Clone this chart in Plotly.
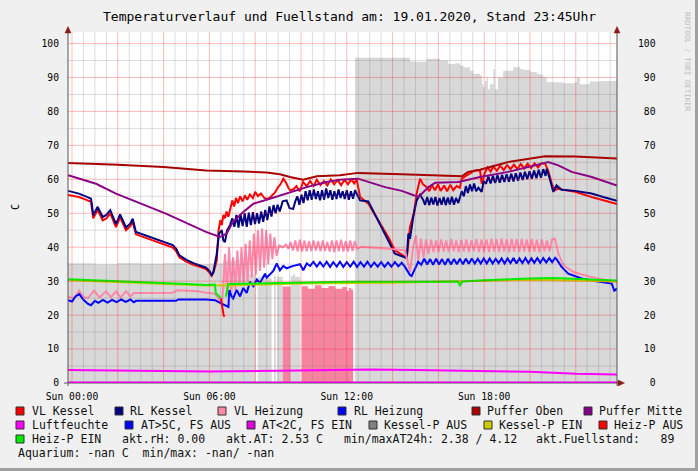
import plotly.graph_objects as go

# ---------------- data (hours of 19.01.2020, values in C / %) ----------------
x_ticks = [0, 6, 12, 18]
x_tick_labels = ["Sun 00:00", "Sun 06:00", "Sun 12:00", "Sun 18:00"]
y_ticks = [0, 10, 20, 30, 40, 50, 60, 70, 80, 90, 100]

fuell_t = [-0.17, 1.0, 2.0, 3.0, 4.0, 5.0, 6.0, 6.6, 7.3, 7.6, 8.04, 8.11, 8.4, 8.72, 8.82, 8.9, 8.95, 9.2,
           9.55, 9.65, 9.75, 9.96, 12.36, 14.76, 14.83, 15.05, 15.49, 16.07, 16.43, 16.72, 16.94, 17.09, 17.38,
           17.52, 17.82, 17.9, 17.96, 18.03, 18.11, 18.16, 18.25, 18.4, 18.47, 18.6, 18.83, 19.27, 19.56, 19.71,
           20.0, 20.29, 20.44, 20.58, 20.73, 21.46, 21.97, 22.05, 22.18, 22.62, 23.06, 23.8]
fuell_v = [35.2, 35.0, 35.3, 35.1, 35.3, 35.0, 35.2, 36.0, 35.0, 32.0, 0, 31.3, 31.0, 0, 31.5, 0, 31.3, 0,
           31.5, 32.0, 31.2, 0, 95.8, 94.8, 94.6, 94.6, 95.5, 95.0, 94.0, 94.2, 93.5, 93.0, 92.0,
           91.1, 90.6, 88.0, 87.1, 89.0, 90.0, 86.5, 88.0, 92.5, 86.5, 90.0, 92.0, 93.0, 92.5, 92.2,
           91.6, 91.1, 90.8, 90.1, 88.6, 88.3, 88.7, 90.0, 88.0, 88.8, 89.0, 88.9]

heizp_area_t = [-0.17, 9.2, 9.55, 10.03, 10.3, 10.6, 10.9, 11.2, 11.5, 11.8, 12.0, 12.1, 12.2, 12.28, 23.8]
heizp_area_v = [0, 28.4, 0, 28.5, 27.8, 28.8, 28.0, 28.6, 27.8, 28.3, 27.2, 28.0, 27.5, 0, 0]

rl_kessel_t = [-0.17, 0.3, 0.6, 0.83, 0.93, 1.12, 1.34, 1.5, 1.67, 1.92, 2.1, 2.36, 2.55, 2.65, 2.79, 3.2, 3.6,
               4.0, 4.4, 4.55, 4.69, 5.0, 5.3, 5.59, 5.85, 6.0, 6.1, 6.17, 6.32, 6.42, 6.54, 6.61, 6.68, 6.77,
               6.9, 7.0, 7.09, 7.18, 7.27, 7.36, 7.45, 7.54, 7.63, 7.72, 7.81, 7.9, 7.99, 8.08, 8.17, 8.26,
               8.35, 8.44, 8.53, 8.62, 8.71, 8.8, 8.89, 8.98, 9.07, 9.2, 9.37, 9.5, 9.66, 9.75, 9.84, 9.93,
               10.02, 10.11, 10.2, 10.29, 10.38, 10.47, 10.56, 10.65, 10.74, 10.83, 10.92, 11.01, 11.1, 11.19,
               11.28, 11.37, 11.46, 11.55, 11.64, 11.73, 11.82, 11.91, 12.0, 12.09, 12.18, 12.27, 12.36,
               12.45, 12.58, 12.94, 13.38, 13.81, 14.1, 14.35, 14.54, 14.62, 14.69, 14.76, 14.9, 15.05, 15.2,
               15.33, 15.42, 15.51, 15.6, 15.69, 15.78, 15.87, 15.96, 16.05, 16.14, 16.23, 16.32, 16.41,
               16.5, 16.59, 16.68, 16.77, 16.87, 17.02, 17.11, 17.2, 17.29, 17.38, 17.47, 17.56, 17.65,
               17.75, 17.89, 17.98, 18.08, 18.18, 18.28, 18.38, 18.48, 18.58, 18.68, 18.78, 18.88, 18.98,
               19.08, 19.18, 19.28, 19.38, 19.48, 19.58, 19.68, 19.78, 19.88, 19.98, 20.08, 20.18, 20.28,
               20.38, 20.48, 20.58, 20.68, 20.73, 20.87, 21.02, 21.16, 21.38, 21.97, 22.69, 23.2, 23.71, 23.8]
rl_kessel_v = [56.6, 55.8, 55.0, 54.3, 49.4, 51.9, 48.9, 49.5, 50.9, 46.8, 49.7, 45.8, 47.0, 48.4, 44.5, 43.5, 42.5,
               41.6, 40.6, 39.5, 37.6, 36.3, 35.3, 34.6, 34.0, 33.0, 31.8, 32.5, 38.0, 44.0, 45.0, 42.0, 41.5, 45.0,
               46.5, 48.5, 46.0, 49.5, 45.8, 49.8, 46.2, 50.0, 46.0, 50.2, 46.5, 50.3, 46.8, 50.0, 47.0, 50.5,
               47.5, 51.0, 48.0, 52.0, 49.0, 52.4, 50.0, 52.5, 50.5, 53.5, 53.8, 51.5, 51.3, 53.5, 55.0, 52.5,
               55.5, 53.0, 56.5, 53.8, 56.8, 54.0, 57.0, 54.2, 56.5, 53.8, 56.8, 54.0, 57.3, 54.5,
               56.8, 54.0, 56.5, 54.2, 57.0, 54.5, 56.5, 54.2, 56.8, 54.0, 56.5, 54.3, 56.8,
               55.5, 53.8, 53.5, 47.9, 42.0, 38.1, 37.5, 37.0, 36.8, 44.0, 42.5, 48.9, 53.8, 55.5,
               54.0, 52.5, 54.8, 52.4, 54.6, 52.6, 54.8, 52.3, 54.5, 52.5, 54.8, 52.4, 54.6,
               52.6, 54.9, 52.5, 54.5, 53.0, 56.5, 55.0, 58.0, 56.0, 58.5, 56.5, 58.8, 56.5,
               57.5, 56.3, 59.5, 58.7, 60.8, 58.8, 61.0, 58.9, 61.2, 59.0, 61.3, 59.2, 61.5,
               59.3, 61.6, 59.4, 61.8, 59.6, 62.0, 59.8, 62.2, 60.0, 62.4, 60.2, 62.6, 60.3,
               62.8, 60.5, 63.0, 61.0, 63.1, 60.0, 56.3, 58.2, 56.9, 56.6, 55.8, 54.8, 53.8, 53.7]

vl_kessel_t = [-0.17, 0.3, 0.6, 0.83, 0.93, 1.12, 1.34, 1.5, 1.67, 1.92, 2.1, 2.36, 2.55, 2.65, 2.79, 3.2, 3.6,
               4.0, 4.4, 4.55, 4.69, 5.0, 5.3, 5.59, 5.85, 6.0, 6.1, 6.2, 6.32, 6.4, 6.48, 6.54, 6.61, 6.68,
               6.75, 6.83, 6.92, 7.0, 7.08, 7.16, 7.25, 7.34, 7.45, 7.55, 7.65, 7.77, 7.9, 8.0, 8.12, 8.25,
               8.4, 8.55, 8.7, 8.85, 9.0, 9.1, 9.23, 9.35, 9.45, 9.52, 9.66, 9.8, 9.95, 10.09, 10.25, 10.4,
               10.55, 10.69, 10.85, 11.0, 11.15, 11.3, 11.45, 11.6, 11.75, 11.9, 12.05, 12.2, 12.32, 12.43,
               12.49, 12.58, 12.94, 13.38, 13.81, 14.1, 14.62, 14.76, 14.93, 15.05, 15.2, 15.33, 15.49,
               15.6, 15.72, 15.85, 15.98, 16.1, 16.25, 16.38, 16.52, 16.65, 16.8, 16.94, 17.02, 17.2,
               17.38, 17.6, 17.82, 17.89, 18.03, 18.15, 18.28, 18.4, 18.55, 18.7, 18.85, 19.0, 19.15,
               19.3, 19.45, 19.6, 19.75, 19.9, 20.05, 20.2, 20.35, 20.5, 20.66, 20.8, 20.95, 21.09,
               21.22, 21.97, 22.69, 23.2, 23.71, 23.8]
vl_kessel_v = [55.4, 54.8, 54.0, 53.4, 48.5, 51.0, 47.9, 48.5, 50.0, 45.9, 48.8, 45.0, 46.2, 47.5, 43.8, 42.8, 41.8,
               40.9, 39.9, 38.8, 37.0, 35.7, 34.8, 34.2, 33.6, 32.5, 31.6, 33.0, 36.0, 45.0, 48.0, 46.5, 49.5, 48.5,
               50.5, 49.0, 52.0, 53.8, 52.0, 54.5, 53.0, 55.0, 53.5, 55.3, 54.0, 55.5, 54.5, 56.3, 55.0, 55.8,
               54.5, 54.2, 55.0, 56.0, 57.7, 58.5, 60.2, 59.0, 57.5, 56.8, 57.0, 58.0, 56.5, 59.2, 58.0, 59.5,
               58.0, 59.9, 58.3, 59.5, 58.2, 60.0, 58.5, 59.8, 58.3, 59.8, 58.5, 60.0, 58.8, 59.9,
               58.0, 54.8, 52.8, 47.9, 43.0, 39.1, 36.9, 46.0, 50.0, 55.8, 60.2, 58.5, 57.7,
               56.5, 58.3, 56.8, 58.5, 56.6, 58.2, 56.5, 58.4, 56.8, 58.0, 57.5, 60.2, 61.0,
               61.8, 62.6, 62.6, 58.7, 62.0, 63.5, 62.3, 63.8, 62.5, 64.0, 62.7, 64.2, 63.0,
               64.3, 63.0, 64.5, 63.2, 64.6, 63.3, 64.7, 63.5, 64.8, 64.6, 62.5, 58.7, 56.8,
               57.2, 56.3, 54.8, 53.8, 52.8, 52.7]

vl_heizung_t = [-0.17, 0.1, 0.31, 0.5, 0.7, 0.96, 1.2, 1.48, 1.7, 1.92, 2.12, 2.36, 2.55, 2.7, 3.5, 4.4, 4.6, 5.5,
                5.85, 6.2, 6.35, 6.45, 6.55, 6.62, 6.68, 6.77, 6.86, 6.95, 7.04, 7.13, 7.22, 7.31, 7.4, 7.49,
                7.58, 7.67, 7.76, 7.85, 7.94, 8.03, 8.12, 8.21, 8.3, 8.39, 8.48, 8.57, 8.66, 8.75, 8.84, 8.93,
                9.05, 9.2, 9.35, 9.45, 9.55, 9.65, 9.75, 9.85, 9.95, 10.05, 10.15, 10.25, 10.35, 10.45, 10.55,
                10.65, 10.75, 10.85, 10.95, 11.05, 11.15, 11.25, 11.35, 11.45, 11.55, 11.65, 11.75, 11.85,
                11.95, 12.05, 12.15, 12.25, 12.35, 12.45, 12.65, 13.67, 14.54, 14.65, 14.76, 14.9, 15.02,
                15.12, 15.24, 15.35, 15.46, 15.57, 15.68, 15.79, 15.9, 16.01, 16.12, 16.23, 16.34, 16.45,
                16.56, 16.67, 16.78, 16.89, 17.0, 17.11, 17.22, 17.33, 17.44, 17.55, 17.66, 17.77, 17.88,
                17.99, 18.1, 18.21, 18.32, 18.43, 18.54, 18.65, 18.76, 18.87, 18.98, 19.09, 19.2, 19.31,
                19.42, 19.53, 19.64, 19.75, 19.86, 19.97, 20.08, 20.19, 20.3, 20.41, 20.52, 20.63, 20.74,
                20.85, 20.96, 21.09, 21.24, 21.46, 21.9, 22.62, 23.2, 23.71, 23.8]
vl_heizung_v = [25.4, 25.0, 27.2, 25.3, 25.0, 27.2, 25.2, 27.0, 25.3, 27.0, 25.2, 27.0, 25.5, 26.5, 26.5, 26.6, 27.3,
                27.0, 26.6, 26.4, 25.4, 24.0, 23.0, 30.0, 38.0, 26.0, 40.0, 27.0, 37.0, 27.5, 39.0, 28.5, 40.0,
                29.0, 41.0, 30.0, 42.0, 31.0, 44.0, 32.0, 45.0, 33.0, 45.5, 34.0, 45.0, 35.0, 44.0, 36.5, 43.0,
                37.5, 40.5, 40.0, 40.8, 39.5, 41.5, 39.0, 42.0, 38.8, 42.2, 38.7, 42.0, 38.8, 41.8, 38.9, 42.0,
                39.0, 41.8, 38.8, 42.0, 38.9, 41.5, 38.7, 42.0, 38.6, 42.0, 38.8, 42.2, 38.7,
                41.8, 38.8, 42.0, 38.9, 41.8, 39.5, 40.1, 39.6, 39.1, 36.0, 32.7, 40.0, 43.5,
                36.2, 42.5, 37.0, 42.3, 38.0, 42.2, 38.5, 42.0, 38.6, 42.3, 38.7, 42.0, 38.6,
                42.4, 38.8, 42.0, 38.6, 42.2, 38.7, 42.3, 38.6, 42.0, 38.8, 42.4, 38.6, 42.2,
                38.5, 42.3, 38.6, 42.5, 38.7, 42.4, 38.6, 42.5, 38.7, 42.3, 38.6, 42.5, 38.7,
                42.4, 38.6, 42.5, 38.7, 42.3, 38.6, 42.4, 38.7, 42.2, 38.6, 42.3, 38.8, 42.0,
                38.7, 42.3, 42.5, 38.1, 34.7, 32.7, 31.3, 30.5, 29.8, 29.7]

rl_heizung_t = [-0.17, 0.0, 0.15, 0.32, 0.5, 0.7, 0.83, 1.0, 1.15, 1.35, 1.55, 1.75, 1.95, 2.15, 2.35, 2.55, 2.7,
                2.8, 4.54, 4.65, 5.85, 6.24, 6.53, 6.68, 6.83, 6.87, 6.97, 7.04, 7.19, 7.34, 7.48, 7.63, 7.77,
                7.92, 8.07, 8.21, 8.43, 8.5, 8.65, 8.79, 8.94, 9.08, 9.23, 9.37, 9.66, 9.96, 10.1, 10.25, 10.4,
                10.54, 10.69, 10.83, 10.98, 11.12, 11.27, 11.41, 11.56, 11.7, 11.85, 12.0, 12.15, 12.3, 12.45,
                12.6, 12.75, 12.9, 13.05, 13.2, 13.35, 13.5, 13.65, 13.8, 13.95, 14.1, 14.25, 14.4, 14.54,
                14.76, 14.83, 15.12, 15.25, 15.38, 15.51, 15.64, 15.77, 15.9, 16.03, 16.16, 16.29, 16.42,
                16.55, 16.68, 16.81, 16.94, 17.07, 17.2, 17.33, 17.46, 17.59, 17.72, 17.85, 17.98, 18.11,
                18.24, 18.37, 18.5, 18.63, 18.76, 18.89, 19.02, 19.15, 19.28, 19.41, 19.54, 19.67, 19.8,
                19.93, 20.06, 20.19, 20.32, 20.45, 20.58, 20.71, 20.84, 20.97, 21.1, 21.16, 21.38, 21.67,
                22.26, 22.9, 23.57, 23.68, 23.8]
rl_heizung_v = [24.4, 24.0, 25.5, 26.2, 24.5, 23.3, 22.9, 24.2, 23.6, 24.5, 23.7, 24.5, 23.8, 24.6, 23.9, 24.6, 23.8,
                24.2, 24.2, 24.6, 24.6, 24.4, 23.4, 22.9, 22.4, 27.4, 25.5, 24.9, 27.4, 25.5, 28.0, 26.5, 29.8,
                28.5, 30.5, 29.5, 32.2, 31.0, 32.2, 33.0, 35.2, 33.2, 34.5, 33.8, 34.5, 35.0, 33.2, 35.2, 34.5,
                35.7, 34.3, 35.6, 34.3, 35.7, 34.2, 35.6, 34.3, 35.7, 34.2, 35.6, 34.3, 35.7, 34.2,
                35.6, 34.3, 35.7, 34.2, 35.5, 34.3, 35.6, 34.2, 35.5, 34.3, 35.6, 34.4, 35.4, 34.2,
                31.8, 31.5, 35.7, 34.8, 36.6, 34.9, 36.5, 34.8, 36.6, 34.9, 36.5, 34.8, 36.6,
                34.9, 36.5, 35.0, 36.6, 35.0, 36.6, 35.1, 36.7, 35.2, 36.6, 35.2, 36.7, 35.2,
                36.7, 35.2, 36.6, 35.3, 36.7, 35.2, 36.7, 35.3, 36.8, 35.2, 36.7, 35.3, 36.8,
                35.3, 36.7, 35.4, 36.8, 35.4, 36.8, 35.5, 36.8, 35.6, 36.9, 36.5, 34.2, 32.2,
                30.8, 30.0, 29.3, 27.2, 27.8]

puffer_oben_t = [-0.17, 2.0, 4.0, 5.85, 7.5, 8.5, 9.08, 9.52, 10.09, 10.69, 11.7, 12.49, 14.4, 16.5, 17.02,
                 17.3, 17.82, 19.05, 20.66, 21.97, 23.71, 23.8]
puffer_oben_v = [64.8, 64.3, 63.6, 62.6, 62.3, 62.0, 61.5, 60.7, 59.9, 60.9, 61.2, 61.9, 61.5, 61.0, 60.9,
                 62.2, 62.8, 65.1, 66.8, 66.7, 66.1, 66.1]

puffer_mitte_t = [-0.17, 1.05, 1.92, 4.1, 5.85, 6.46, 6.75, 7.02, 7.48, 7.92, 8.5, 9.4, 10.25, 11.12, 11.7,
                  12.49, 13.67, 14.4, 15.13, 15.57, 15.86, 16.87, 17.82, 19.05, 20.8, 21.24, 21.82, 22.7,
                  23.71, 23.8]
puffer_mitte_v = [61.2, 58.7, 55.8, 49.9, 44.5, 43.0, 44.0, 47.4, 50.4, 52.8, 54.0, 55.8, 57.7, 59.2, 59.9,
                  60.2, 57.7, 56.6, 54.8, 57.7, 59.0, 59.2, 60.7, 62.2, 65.1, 64.1, 62.2, 60.7,
                  58.4, 58.2]

luftfeuchte_t = [-0.17, 3.0, 6.0, 9.0, 12.0, 13.0, 15.0, 18.0, 20.0, 22.0, 23.8]
luftfeuchte_v = [3.8, 3.6, 3.4, 3.6, 3.9, 4.0, 3.8, 3.6, 3.3, 2.7, 2.5]

at_kalt_t = [-0.17, 23.8]
at_kalt_v = [0, 0]

kessel_p_ein_t = [-0.17, 2.0, 4.0, 5.85, 6.9, 10.0, 14.0, 18.0, 20.0, 22.0, 23.5, 23.8]
kessel_p_ein_v = [30.3, 29.8, 29.2, 28.7, 28.8, 29.3, 29.5, 30.0, 30.4, 30.2, 30.0, 29.9]

heiz_p_ein_t = [-0.17, 1.0, 2.0, 3.0, 4.0, 5.0, 5.85, 6.24, 6.28, 6.45, 6.5, None, 6.72, 6.83, 8.0, 10.0,
                12.0, 14.0, 16.85, 16.94, 17.05, 18.0, 19.0, 20.0, 21.0, 22.0, 23.0, 23.8]
heiz_p_ein_v = [30.6, 30.3, 30.1, 29.8, 29.5, 29.2, 28.9, 29.0, 26.5, 25.5, 25.0, None, 25.4, 29.2, 29.3, 29.6,
                29.8, 29.8, 29.9, 28.8, 29.9, 30.3, 30.6, 30.8, 30.9, 30.6, 30.4, 30.2]

heiz_p_aus_t = [6.5, 6.56, 6.62, 6.66]
heiz_p_aus_v = [25.0, 22.0, 20.0, 19.5]

legend_labels = ["VL Kessel", "RL Kessel", "VL Heizung", "RL Heizung", "Puffer Oben", "Puffer Mitte",
                 "Luftfeuchte", "AT&gt;5C, FS AUS", "AT&lt;2C, FS EIN", "Kessel-P AUS", "Kessel-P EIN",
                 "Heiz-P AUS", "Heiz-P EIN"]
info_texts = ["akt.rH: 0.00", "akt.AT: 2.53 C", "min/maxAT24h: 2.38 / 4.12",
              "akt.Fuellstand:\u00a0\u00a0\u00a089"]
aquarium_text = "Aquarium: -nan C\u00a0\u00a0min/max: -nan/ -nan"
title_text = "Temperaturverlauf und Fuellstand am: 19.01.2020, Stand 23:45Uhr"

# ---------------- styles ----------------
C = {
    "VL Kessel": "#FF0000", "RL Kessel": "#000080", "VL Heizung": "#FF88AA", "RL Heizung": "#0000FF",
    "Puffer Oben": "#A80000", "Puffer Mitte": "#880088", "Luftfeuchte": "#FF00FF",
    "AT&gt;5C, FS AUS": "#0000FF", "AT&lt;2C, FS EIN": "#E000E0", "Kessel-P AUS": "#808080",
    "Kessel-P EIN": "#CCCC00", "Heiz-P AUS": "#FF0000", "Heiz-P EIN": "#00EE00",
}
FONT = "DejaVu Sans Mono"
W, H = 698, 471
L, R, T, B = 68, 617, 32, 383
X0, X1 = -0.175, 23.8
YMAX = 103.4


def pxp(x):
    return (x - L) / (R - L)


def pyp(y):
    return (B - y) / (B - T)


fig = go.Figure()
fig.add_trace(go.Scatter(x=fuell_t, y=fuell_v, mode="lines", line=dict(width=0, shape="hv"),
                         fill="tozeroy", fillcolor="#D8D8D8", hoverinfo="skip"))
fig.add_trace(go.Scatter(x=heizp_area_t, y=heizp_area_v, mode="lines", line=dict(width=0, shape="hv"),
                         fill="tozeroy", fillcolor="#F7849F", hoverinfo="skip"))

lines = [
    (vl_kessel_t, vl_kessel_v, C["VL Kessel"]),
    (rl_kessel_t, rl_kessel_v, C["RL Kessel"]),
    (vl_heizung_t, vl_heizung_v, C["VL Heizung"]),
    (rl_heizung_t, rl_heizung_v, C["RL Heizung"]),
    (puffer_oben_t, puffer_oben_v, C["Puffer Oben"]),
    (puffer_mitte_t, puffer_mitte_v, C["Puffer Mitte"]),
    (luftfeuchte_t, luftfeuchte_v, C["Luftfeuchte"]),
    (kessel_p_ein_t, kessel_p_ein_v, C["Kessel-P EIN"]),
    (heiz_p_aus_t, heiz_p_aus_v, C["Heiz-P AUS"]),
    (heiz_p_ein_t, heiz_p_ein_v, C["Heiz-P EIN"]),
]
for xs, ys, col in lines:
    fig.add_trace(go.Scatter(x=xs, y=ys, mode="lines", line=dict(color=col, width=2),
                             connectgaps=False, hoverinfo="skip"))
fig.add_trace(go.Scatter(x=at_kalt_t, y=at_kalt_v, mode="lines", yaxis="y2",
                         line=dict(color=C["AT&lt;2C, FS EIN"], width=3), hoverinfo="skip"))

shapes = []
# grid (drawn on top, translucent like rrdtool)
h = 0.0
while h <= 23.5 + 1e-9:
    major = abs(h / 2 - round(h / 2)) < 1e-9
    shapes.append(dict(type="line", xref="x", yref="y", x0=h, x1=h, y0=0, y1=YMAX, layer="above",
                       line=dict(color="rgba(255,0,0,0.27)" if major else "rgba(120,120,120,0.25)", width=1)))
    h += 0.5
for v in range(5, 101, 5):
    shapes.append(dict(type="line", xref="x", yref="y", x0=X0, x1=X1, y0=v, y1=v, layer="above",
                       line=dict(color="rgba(255,0,0,0.27)" if v % 10 == 0 else "rgba(120,120,120,0.25)",
                                 width=1)))
# axes lines
ax_col = "#555555"
shapes.append(dict(type="line", xref="paper", yref="paper", x0=pxp(L), x1=pxp(L), y0=pyp(386), y1=pyp(29),
                   line=dict(color=ax_col, width=1)))
shapes.append(dict(type="line", xref="paper", yref="paper", x0=pxp(R), x1=pxp(R), y0=pyp(386), y1=pyp(29),
                   line=dict(color=ax_col, width=1)))
shapes.append(dict(type="line", xref="paper", yref="paper", x0=pxp(64), x1=pxp(620), y0=0, y1=0,
                   line=dict(color=ax_col, width=1), layer="below"))
arr_col = "#8B1A1A"


def tri(pts):
    p = "M " + " L ".join(f"{pxp(a):.5f},{pyp(b):.5f}" for a, b in pts) + " Z"
    return dict(type="path", xref="paper", yref="paper", path=p, fillcolor=arr_col,
                line=dict(color=arr_col, width=0.5))


shapes.append(tri([(L, 26.5), (L - 3, 33), (L + 3, 33)]))
shapes.append(tri([(R, 26.5), (R - 3, 33), (R + 3, 33)]))
shapes.append(tri([(624.5, B), (618, B - 3), (618, B + 3)]))
# outer frame shading
shapes.append(dict(type="rect", xref="paper", yref="paper", x0=pxp(695), x1=pxp(698), y0=pyp(471), y1=pyp(0),
                   fillcolor="#A0A0A0", line=dict(width=0)))
shapes.append(dict(type="rect", xref="paper", yref="paper", x0=pxp(0), x1=pxp(698), y0=pyp(471), y1=pyp(468),
                   fillcolor="#A0A0A0", line=dict(width=0)))

# ---------------- legend (rrdtool style) ----------------
annotations = []
leg_rows_y = [411, 425, 439, 453]
leg_pos = [  # (box x, text x, row)
    (16, 30, 0), (115, 128, 0), (218, 232, 0), (338, 352, 0), (472, 485, 0), (584, 597, 0),
    (16, 30, 1), (125, 139, 1), (247, 260, 1), (369, 382, 1), (484, 497, 1), (599, 612, 1),
    (16, 30, 2),
]
for lab, (bx, tx, row) in zip(legend_labels, leg_pos):
    yc = leg_rows_y[row]
    shapes.append(dict(type="rect", xref="paper", yref="paper", x0=pxp(bx), x1=pxp(bx + 8),
                       y0=pyp(yc + 4), y1=pyp(yc - 4), fillcolor=C[lab], line=dict(color="#303030", width=1)))
    annotations.append(dict(text=lab, x=pxp(tx), y=pyp(yc), xref="paper", yref="paper", xanchor="left",
                            yanchor="middle", showarrow=False, font=dict(family=FONT, size=11.5, color="#111")))
for txt, tx in zip(info_texts, [120, 223.5, 342, 534]):
    annotations.append(dict(text=txt, x=pxp(tx), y=pyp(leg_rows_y[2]), xref="paper", yref="paper",
                            xanchor="left", yanchor="middle", showarrow=False,
                            font=dict(family=FONT, size=11.5, color="#111")))
annotations.append(dict(text=aquarium_text, x=pxp(16), y=pyp(leg_rows_y[3]), xref="paper", yref="paper",
                        xanchor="left", yanchor="middle", showarrow=False,
                        font=dict(family=FONT, size=11.5, color="#111")))
# title, axis unit, watermark
annotations.append(dict(text=title_text, x=pxp(349), y=pyp(17), xref="paper", yref="paper", xanchor="center",
                        yanchor="middle", showarrow=False, font=dict(family=FONT, size=13, color="#000")))
annotations.append(dict(text="C", x=pxp(15), y=pyp(207), xref="paper", yref="paper", xanchor="center",
                        yanchor="middle", showarrow=False, textangle=-90,
                        font=dict(family=FONT, size=10, color="#000")))
annotations.append(dict(text="RRDTOOL / TOBI OETIKER", x=pxp(688), y=pyp(62), xref="paper", yref="paper",
                        xanchor="center", yanchor="middle", showarrow=False, textangle=90,
                        font=dict(family=FONT, size=7.5, color="#BDBDBD")))

right_labels = [("\u00a0" * (3 - len(str(v)))) + str(v) for v in y_ticks]

fig.update_layout(
    width=W, height=H, autosize=False,
    margin=dict(l=L, r=W - R, t=T, b=H - B, pad=0),
    paper_bgcolor="#F0F0F0", plot_bgcolor="#FFFFFF", showlegend=False,
    font=dict(family=FONT, size=10, color="#000"),
    xaxis=dict(range=[X0, X1], tickvals=x_ticks, ticktext=x_tick_labels, showgrid=False, zeroline=False,
               showline=False, ticks="", tickfont=dict(family=FONT, size=9.7, color="#000"),
               ticklabelstandoff=6, fixedrange=True),
    yaxis=dict(range=[0, YMAX], tickvals=y_ticks, showgrid=False, zeroline=False, showline=False, ticks="",
               tickfont=dict(family=FONT, size=9.7, color="#000"), ticklabelstandoff=8, fixedrange=True),
    yaxis2=dict(range=[0, YMAX], overlaying="y", side="right", anchor="x", tickvals=y_ticks,
                ticktext=right_labels, showgrid=False, zeroline=False, showline=False, ticks="",
                tickfont=dict(family=FONT, size=9.7, color="#000"), ticklabelstandoff=20, fixedrange=True),
    shapes=shapes, annotations=annotations,
)

fig.write_html("out.html", config={"displayModeBar": False},
               post_script="document.body.style.margin='0';document.body.style.padding='0';")
